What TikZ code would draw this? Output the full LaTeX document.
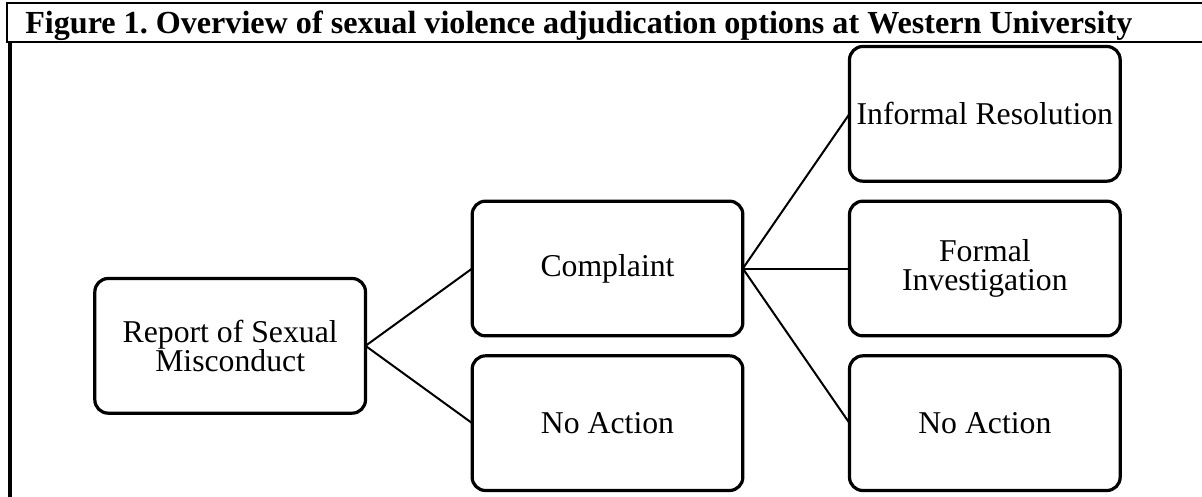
\documentclass[tikz,border=0pt]{standalone}
\usepackage{fontspec}
\setmainfont{Liberation Serif}
\usepackage{tikz}
\usetikzlibrary{positioning,calc}
\frenchspacing

\begin{document}
\begin{tikzpicture}[
x=0.75pt, y=-0.75pt,
node distance=15pt and 80pt,
box/.style={draw, line width=2.4pt, rounded corners=10pt, outer sep=0pt,
  minimum width=203pt, minimum height=101pt, align=center, inner sep=0pt,
  font=\fontsize{23.8}{22}\selectfont},
link/.style={line width=1.5pt},
frame/.style={line width=1.8pt}
]
\useasboundingbox (0,0) rectangle (1202,496);

% title and frame
\node[anchor=base west, inner sep=0pt, font=\fontsize{24.1}{22}\selectfont\bfseries] (title) at (25,33)
  {Figure 1. Overview of sexual violence adjudication options at Western University};
\draw[frame] (1210,3) -- (7,3) -- (7,42) -- (1210,42);
\draw[line width=2.3pt] (10,42) -- (10,500);

% boxes
\node[box] (complaint) at (607.5,268.5) {Complaint};
\node[box, below=of complaint] (noaction) {No Action};
\node[box, right=of complaint] (formal) {Formal\\Investigation};
\node[box, above=of formal] (informal) {Informal Resolution};
\node[box, below=of formal] (noactionb) {No Action};
\coordinate (mid) at ($(complaint.west)!.5!(noaction.west)$);
\node[box, left=of mid] (report) {Report of Sexual\\Misconduct};

% links
\draw[link] (report.east) -- (complaint.west);
\draw[link] (report.east) -- (noaction.west);
\draw[link] (complaint.east) -- (informal.west);
\draw[link] (complaint.east) -- (formal.west);
\draw[link] (complaint.east) -- (noactionb.west);
\end{tikzpicture}
\end{document}
